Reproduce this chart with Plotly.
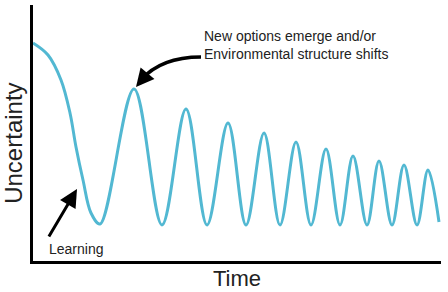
import plotly.graph_objects as go

# Curve key points (time, uncertainty)
time_pts = [0, 15, 28, 37, 43, 50, 58, 67, 101, 129, 153, 174, 195, 213, 231, 247, 263, 278, 293, 307, 320, 334, 346, 359, 371, 384, 395, 406]
uncert_pts = [218, 206, 181, 148, 114, 81, 48, 37, 172, 36, 152, 36, 138, 36, 128, 36, 119, 36, 112, 36, 105, 36, 100, 36, 96, 36, 91, 39]

x_title = "Time"
y_title = "Uncertainty"
note_top = "New options emerge and/or<br>Environmental structure shifts"
note_learn = "Learning"

curve_color = "#52B8D2"
font_family = "Liberation Sans, Arial, sans-serif"

fig = go.Figure()
fig.add_trace(go.Scatter(
    x=time_pts, y=uncert_pts, mode="lines",
    line=dict(color=curve_color, width=3, shape="spline", smoothing=1.0),
    hoverinfo="skip", showlegend=False, cliponaxis=False,
))

# curved arrow shaft toward second peak
fig.add_shape(type="path", xref="x", yref="y",
              path="M 168,204 Q 128,204 108,181",
              line=dict(color="black", width=3.5))
# arrow head
fig.add_annotation(x=103, y=174, ax=10, ay=-12, xref="x", yref="y",
                   text="", showarrow=True, arrowhead=2, arrowsize=1.2,
                   arrowwidth=3, arrowcolor="black")
fig.add_annotation(x=169, y=216, xref="x", yref="y", text=note_top,
                   xanchor="left", yanchor="middle",
                   showarrow=False, align="left",
                   font=dict(family=font_family, size=14, color="#222"))

# learning arrow
fig.add_annotation(x=44, y=72, ax=-29, ay=49, xref="x", yref="y",
                   text="", showarrow=True, arrowhead=2, arrowsize=1.2,
                   arrowwidth=3, arrowcolor="black")
fig.add_annotation(x=43.5, y=12, xref="x", yref="y", text=note_learn,
                   showarrow=False,
                   font=dict(family=font_family, size=14, color="#222"))

# axis titles
fig.add_annotation(x=0.5, y=-0.07, xref="paper", yref="paper", text=x_title,
                   xanchor="center", yanchor="middle",
                   showarrow=False, font=dict(family=font_family, size=22, color="#222"))
fig.add_annotation(x=-0.047, y=0.461, xref="paper", yref="paper", text=y_title,
                   xanchor="center", yanchor="middle",
                   textangle=-90, showarrow=False,
                   font=dict(family=font_family, size=24, color="#222"))

fig.update_layout(
    width=448, height=292,
    margin=dict(l=33, r=7, t=5, b=31),
    paper_bgcolor="white", plot_bgcolor="white",
    font=dict(family=font_family, color="#222"),
    xaxis=dict(range=[0, 408], showline=True, linecolor="black", linewidth=3,
               showgrid=False, zeroline=False, showticklabels=False, ticks="",
               automargin=False),
    yaxis=dict(range=[0, 256], showline=True, linecolor="black", linewidth=3,
               showgrid=False, zeroline=False, showticklabels=False, ticks="",
               automargin=False),
)

fig.write_html("out.html", config={"displayModeBar": False},
               post_script="document.body.style.margin='0';document.body.style.padding='0';")
